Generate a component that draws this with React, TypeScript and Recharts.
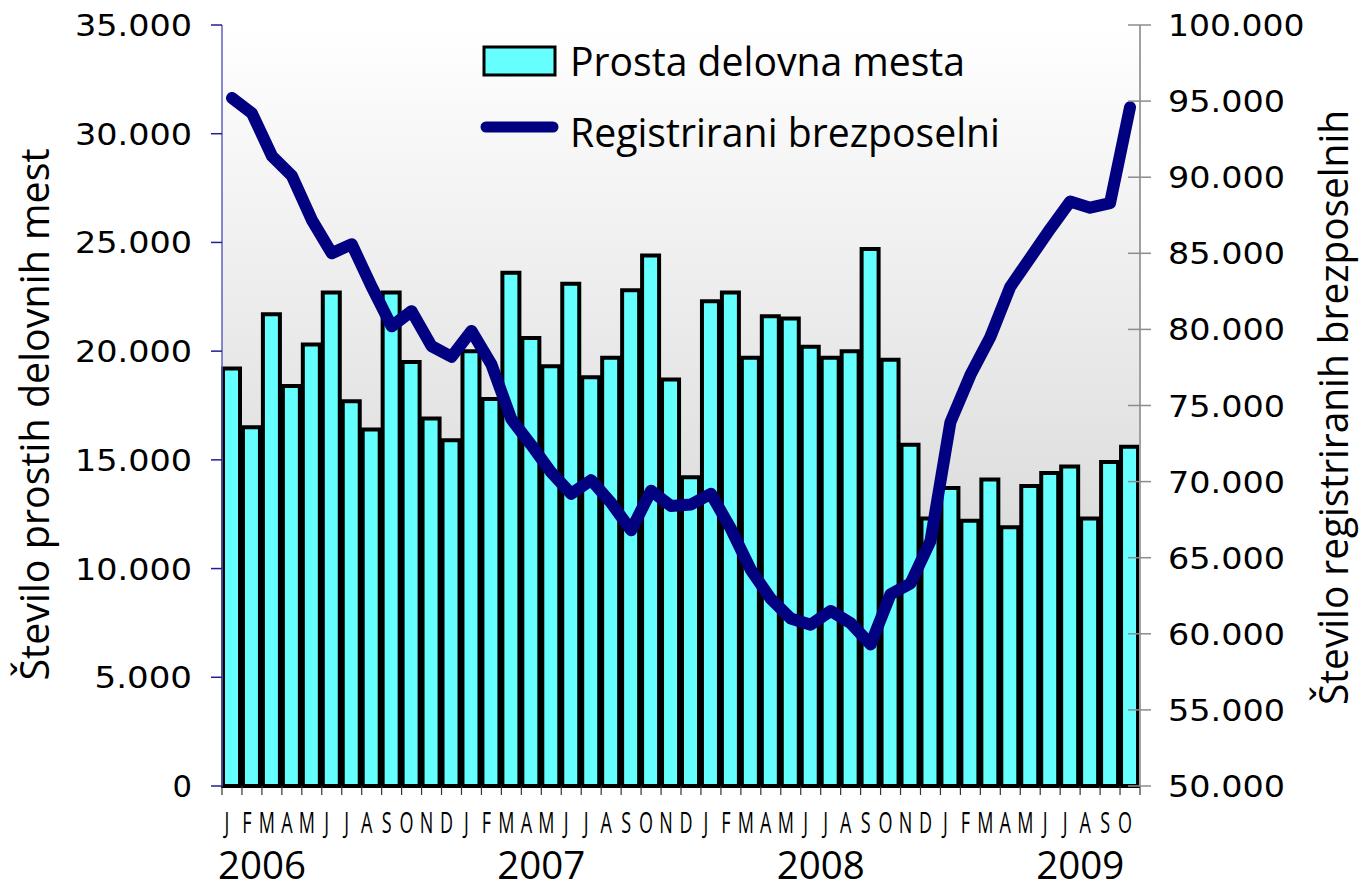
import { ComposedChart, Bar, Line, XAxis, YAxis, CartesianGrid, Legend, Label } from 'recharts';

const monthLetters = ['J', 'F', 'M', 'A', 'M', 'J', 'J', 'A', 'S', 'O', 'N', 'D'];
const years = ['2006', '2007', '2008', '2009'];
// bar index each year label sits under
const yearLabelIndex = [1, 15, 29, 42];

// prosta delovna mesta (left axis)
const vacancies = [
  19200, 16500, 21700, 18400, 20300, 22700, 17700, 16400, 22700, 19500, 16900, 15900,
  20000, 17800, 23600, 20600, 19300, 23100, 18800, 19700, 22800, 24400, 18700, 14200,
  22300, 22700, 19700, 21600, 21500, 20200, 19700, 20000, 24700, 19600, 15700, 12300,
  13700, 12200, 14100, 11900, 13800, 14400, 14700, 12300, 14900, 15600,
];

// registrirani brezposelni (right axis)
const unemployed = [
  95200, 94200, 91400, 90100, 87200, 85000, 85600, 82800, 80200, 81200, 78900, 78200,
  79900, 77700, 74100, 72400, 70600, 69200, 70100, 68600, 66800, 69400, 68400, 68500,
  69200, 66900, 64200, 62300, 61000, 60600, 61500, 60700, 59300, 62600, 63300, 66100,
  73900, 77000, 79500, 82800, 84700, 86600, 88400, 88000, 88300, 94600,
];

const leftTicks = [0, 5000, 10000, 15000, 20000, 25000, 30000, 35000];
const rightTicks = [50000, 55000, 60000, 65000, 70000, 75000, 80000, 85000, 90000, 95000, 100000];

const chartData = vacancies.map((v, i) => ({
  key: `${years[Math.floor(i / 12)]}-${(i % 12) + 1}`,
  month: monthLetters[i % 12],
  vacancies: v,
  unemployed: unemployed[i],
}));

const W = 1360;
const H = 891;
const LEFT_W = 222;
const RIGHT_W = 220;
const X_H = 105;
const TOP = 25;
const BAND = (W - LEFT_W - RIGHT_W) / chartData.length;

const CYAN = '#66ffff';
const NAVY = '#000080';
const TEXT_FONT = "'Open Sans', 'Noto Sans', sans-serif";
const NUM_FONT = "'DejaVu Sans', sans-serif";

const fmt = (v: number) => (v === 0 ? '0' : `${Math.floor(v / 1000)}.${String(v % 1000).padStart(3, '0')}`);

function LeftTick({ x, y, payload }: any) {
  const s = fmt(payload.value);
  return (
    <text x={x} y={y + 11} textAnchor="end" fontFamily={NUM_FONT} fontSize={30} fill="#000"
      textLength={s.length * 19.5} lengthAdjust="spacingAndGlyphs">{s}</text>
  );
}

function RightTick({ x, y, payload }: any) {
  const s = fmt(payload.value);
  return (
    <g>
      <line x1={x - 40} x2={x - 17} y1={y} y2={y} stroke="#8c8c8c" strokeWidth={1.5} />
      <text x={x} y={y + 11} textAnchor="start" fontFamily={NUM_FONT} fontSize={30} fill="#000"
        textLength={s.length * 19.5} lengthAdjust="spacingAndGlyphs">{s}</text>
    </g>
  );
}

function MonthTick({ x, y, index }: any) {
  const d = chartData[index];
  const yi = yearLabelIndex.indexOf(index);
  const last = index === chartData.length - 1;
  return (
    <g>
      <line x1={x - BAND / 2} x2={x - BAND / 2} y1={y} y2={y + 9} stroke="#333" strokeWidth={1.2} />
      {last && <line x1={x + BAND / 2} x2={x + BAND / 2} y1={y} y2={y + 9} stroke="#333" strokeWidth={1.2} />}
      <text transform={`translate(${x - 5},${y + 47}) scale(0.6,1)`} textAnchor="middle"
        fontFamily={TEXT_FONT} fontSize={30} fill="#000">{d.month}</text>
      {yi >= 0 && (
        <text x={x + 10} y={y + 93} textAnchor="middle" fontFamily={TEXT_FONT} fontSize={38} fill="#000"
          textLength={88} lengthAdjust="spacingAndGlyphs">{years[yi]}</text>
      )}
    </g>
  );
}

function LegendBox() {
  return (
    <svg width={560} height={140} style={{ display: 'block' }}>
      <rect x={14} y={17} width={71} height={28} fill={CYAN} stroke="#000" strokeWidth={3} />
      <text x={100} y={46} fontFamily={TEXT_FONT} fontSize={40} fill="#000"
        textLength={395} lengthAdjust="spacingAndGlyphs">Prosta delovna mesta</text>
      <line x1={16} x2={83} y1={97} y2={97} stroke={NAVY} strokeWidth={11} strokeLinecap="round" />
      <text x={100} y={117} fontFamily={TEXT_FONT} fontSize={40} fill="#000"
        textLength={430} lengthAdjust="spacingAndGlyphs">Registrirani brezposelni</text>
    </svg>
  );
}

export default function App() {
  return (
    <div style={{ position: 'absolute', left: 0, top: 0, width: W, height: H, background: '#fff' }}>
      <ComposedChart width={W} height={H} data={chartData} barSize={17}
        margin={{ top: TOP, right: 0, bottom: 0, left: 0 }}>
        <defs>
          <linearGradient id="plotBg" x1="0" y1="0" x2="0" y2="1">
            <stop offset="0%" stopColor="#ffffff" />
            <stop offset="100%" stopColor="#cbcbcb" />
          </linearGradient>
        </defs>
        <CartesianGrid yAxisId="left" horizontal={false} vertical={false} fill="url(#plotBg)" />
        <XAxis dataKey="key" height={X_H} interval={0} tickLine={false} tickSize={0} tickMargin={0}
          axisLine={{ stroke: '#000', strokeWidth: 2 }} tick={<MonthTick />} />
        <YAxis yAxisId="left" width={LEFT_W} domain={[0, 35000]} ticks={leftTicks} interval={0}
          tickSize={11} tickMargin={19} axisLine={{ stroke: '#6060c0', strokeWidth: 1.5 }}
          tickLine={{ stroke: '#20208f', strokeWidth: 1.5 }} tick={<LeftTick />}>
          <Label content={(p: any) => {
            const vb = p.viewBox;
            return (
              <text transform={`translate(${vb.x + 49},${vb.y + vb.height / 2 + 9}) rotate(-90)`}
                textAnchor="middle" fontFamily={TEXT_FONT} fontSize={40} fill="#000"
                textLength={532} lengthAdjust="spacingAndGlyphs">Število prostih delovnih mest</text>
            );
          }} />
        </YAxis>
        <YAxis yAxisId="right" orientation="right" width={RIGHT_W} domain={[50000, 100000]} ticks={rightTicks}
          interval={0} tickSize={11} tickMargin={17} tickLine={false}
          axisLine={{ stroke: '#a0a0a0', strokeWidth: 2 }} tick={<RightTick />}>
          <Label content={(p: any) => {
            const vb = p.viewBox;
            return (
              <text transform={`translate(${vb.x + 208},${vb.y + vb.height / 2 + 2}) rotate(-90)`}
                textAnchor="middle" fontFamily={TEXT_FONT} fontSize={40} fill="#000"
                textLength={595} lengthAdjust="spacingAndGlyphs">Število registriranih brezposelnih</text>
            );
          }} />
        </YAxis>
        <Legend layout="horizontal" verticalAlign="middle" align="center"
          wrapperStyle={{ top: 30, left: 470, width: 560, height: 140 }} content={() => <LegendBox />} />
        <Bar yAxisId="left" dataKey="vacancies" name="Prosta delovna mesta" fill={CYAN} stroke="#000"
          strokeWidth={4} isAnimationActive={false} />
        <Line yAxisId="right" type="linear" dataKey="unemployed" name="Registrirani brezposelni" stroke={NAVY}
          strokeWidth={12} strokeLinejoin="round" strokeLinecap="round" dot={false} activeDot={false}
          isAnimationActive={false} />
      </ComposedChart>
    </div>
  );
}
